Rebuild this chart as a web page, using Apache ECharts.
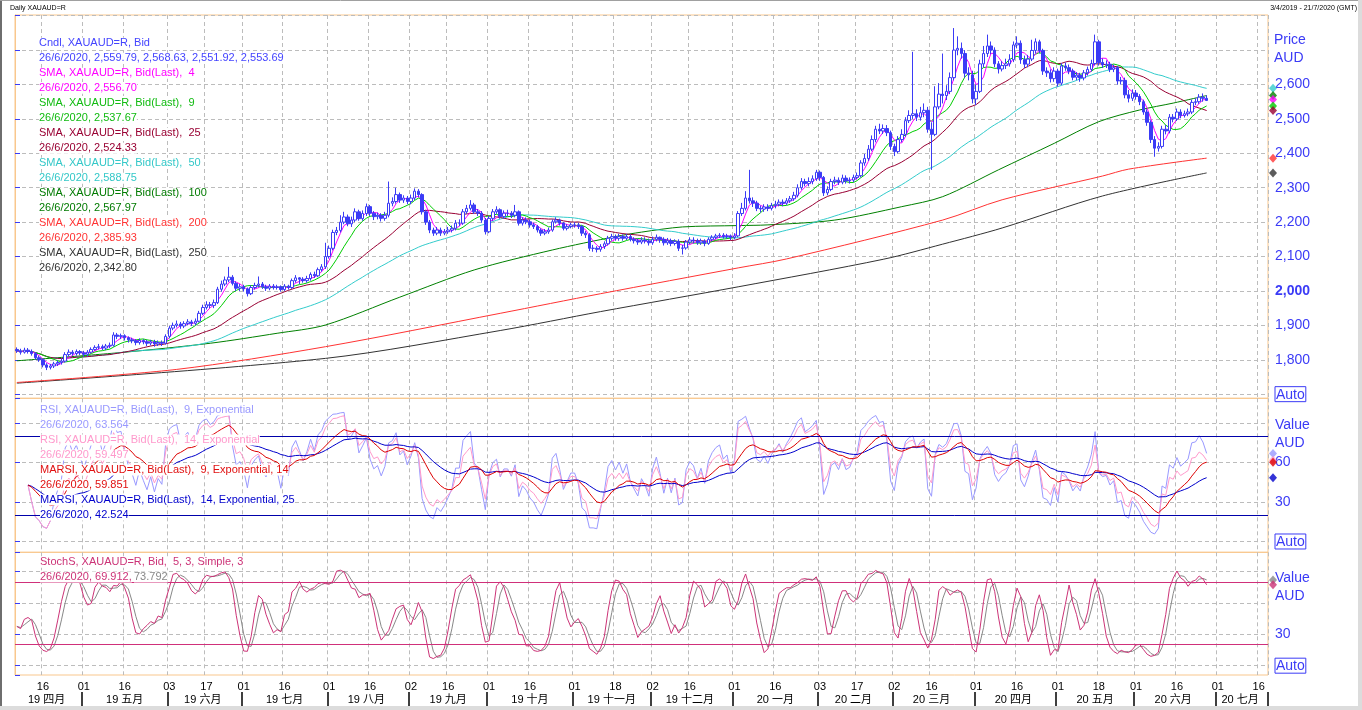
<!DOCTYPE html>
<html><head><meta charset="utf-8">
<script src="https://cdn.jsdelivr.net/npm/echarts@6/dist/echarts.min.js"></script>
<style>html,body{margin:0;padding:0;background:#fff;}#c{width:1362px;height:710px;}</style>
</head><body><div id="c"></div>
<script>
// ---------------- data ----------------
const startDate = '2019-04-05';
const endDate = '2020-07-20';
const tickDates = ['2019-04-16','2019-05-01','2019-05-16','2019-06-03','2019-06-17','2019-07-01','2019-07-16','2019-08-01','2019-08-16','2019-09-02','2019-09-16','2019-10-01','2019-10-16','2019-11-01','2019-11-18','2019-12-02','2019-12-16','2020-01-01','2020-01-16','2020-02-03','2020-02-17','2020-03-02','2020-03-16','2020-04-01','2020-04-16','2020-05-01','2020-05-18','2020-06-01','2020-06-16','2020-07-01','2020-07-16'];
const monthNames = ['一月','二月','三月','四月','五月','六月','七月','八月','九月','十月','十一月','十二月'];
const firstOpen = 1830;
const closes = [1826,1822,1828,1824,1818,1806,1800,1785,1778,1782,
1788,1792,1796,1815,1822,1818,1824,1820,1816,1822,
1830,1836,1838,1834,1840,1842,1872,1868,1870,1864,
1858,1855,1850,1856,1852,1848,1852,1846,1850,1848,
1868,1892,1900,1904,1898,1905,1910,1906,1912,1935,
1952,1960,1958,1966,2005,2020,2032,2040,2022,2008,
2012,2006,1992,2010,2016,2020,2012,2008,2014,2010,
2012,2004,2014,2010,2030,2038,2034,2030,2036,
2048,2044,2062,2070,2100,2124,2170,2176,2200,2215,
2195,2206,2230,2210,2225,2245,2226,2216,2220,2211,
2220,2255,2260,2280,2264,2270,2260,2270,2290,2280,
2230,2200,2177,2168,2177,2168,2172,2177,2182,2197,
2197,2230,2240,2250,2230,2226,2206,2172,2211,2230,
2236,2216,2226,2226,2220,2230,2197,2206,2201,2192,
2187,2177,2168,2172,2177,2201,2206,2197,2182,2187,
2192,2192,2187,2168,2163,2124,2124,2121,2129,2137,
2153,2158,2153,2158,2153,2158,2150,2146,2142,2148,
2145,2140,2150,2156,2150,2140,2146,2138,2144,
2124,2125,2142,2148,2146,2140,2145,2138,2150,2156,
2160,2162,2158,2160,2155,2160,2225,2240,2270,2262,
2255,2240,2238,2244,2240,2248,2252,2258,2255,2262,
2268,2278,2300,2318,2312,2318,2326,2345,2330,2285,
2295,2318,2322,2316,2328,2320,2322,2330,2335,2372,
2385,2412,2440,2470,2465,2472,2460,2420,2405,2440,
2455,2495,2510,2515,2505,2518,2525,2470,2455,2535,
2572,2568,2580,2620,2700,2705,2690,2633,2628,2558,
2580,2660,2690,2712,2700,2660,2645,2655,2660,2672,
2715,2720,2672,2659,2674,2699,2724,2699,2639,2634,
2617,2639,2604,2654,2649,2639,2621,2627,2619,2634,
2644,2661,2724,2664,2657,2659,2644,2649,2610,2612,
2570,2560,2575,2565,2550,2520,2490,2440,2415,2420,
2470,2465,2505,2500,2520,2510,2515,2520,2548,2550,
2563.3,2559.79,2553.69];
const highs = [1836,1832,1835,1834,1830,1822,1812,1804,1790,1788,
1794,1798,1804,1822,1830,1828,1830,1828,1826,1828,
1836,1842,1846,1844,1846,1850,1880,1878,1876,1874,
1868,1864,1860,1862,1860,1858,1858,1858,1856,1856,
1874,1898,1908,1914,1910,1912,1918,1916,1920,1942,
1960,1970,1968,1975,2012,2030,2042,2070,2046,2028,
2020,2018,2010,2016,2024,2042,2026,2018,2020,2020,
2018,2016,2020,2018,2036,2046,2040,2040,2044,
2054,2056,2068,2078,2140,2132,2178,2186,2220,2230,
2222,2216,2240,2236,2234,2254,2250,2232,2228,2226,
2230,2318,2272,2300,2286,2278,2276,2280,2298,2296,
2284,2236,2206,2184,2186,2184,2180,2186,2190,2206,
2208,2238,2250,2264,2256,2238,2232,2212,2218,2238,
2246,2240,2234,2236,2232,2250,2234,2214,2214,2208,
2198,2192,2182,2180,2184,2208,2214,2210,2200,2194,
2198,2200,2198,2192,2174,2168,2134,2130,2136,2144,
2160,2166,2164,2166,2164,2166,2164,2156,2152,2156,
2156,2152,2158,2164,2158,2156,2154,2152,2150,
2150,2134,2148,2156,2156,2152,2152,2150,2156,2162,
2166,2168,2168,2166,2164,2168,2232,2256,2290,2352,
2272,2262,2248,2252,2252,2256,2262,2266,2266,2270,
2276,2288,2310,2328,2326,2330,2336,2352,2350,2334,
2304,2326,2332,2330,2338,2336,2330,2338,2344,2380,
2398,2424,2452,2480,2486,2484,2482,2466,2428,2450,
2470,2505,2525,2695,2528,2535,2545,2535,2490,2595,
2604,2690,2598,2635,2764,2740,2722,2700,2650,2640,
2600,2672,2712,2745,2725,2708,2668,2668,2675,2688,
2725,2740,2728,2684,2686,2730,2734,2730,2704,2650,
2644,2650,2646,2662,2664,2658,2646,2636,2634,2642,
2652,2672,2745,2730,2676,2670,2666,2658,2654,2622,
2620,2584,2586,2584,2572,2556,2528,2496,2450,2432,
2480,2482,2514,2514,2530,2528,2524,2530,2556,2560,
2572,2574,2568.63];
const lows = [1820,1815,1818,1818,1812,1800,1794,1778,1770,1772,
1776,1782,1786,1792,1810,1812,1812,1814,1808,1810,
1818,1826,1830,1828,1828,1834,1838,1860,1860,1856,
1850,1848,1842,1844,1845,1840,1842,1838,1840,1840,
1844,1862,1886,1894,1890,1892,1900,1898,1900,1908,
1930,1946,1950,1950,1962,1998,2014,2026,2016,2000,
2000,1998,1984,1988,2004,2010,2006,2000,2002,2004,
2004,1998,2000,2004,2006,2024,2020,2024,2024,
2030,2038,2040,2056,2064,2094,2118,2162,2170,2194,
2188,2186,2200,2204,2204,2218,2218,2206,2208,2202,
2204,2214,2246,2254,2256,2256,2252,2252,2264,2272,
2222,2192,2168,2160,2162,2160,2162,2166,2170,2176,
2188,2192,2224,2234,2224,2218,2198,2164,2168,2204,
2224,2210,2210,2218,2212,2214,2190,2190,2194,2184,
2180,2170,2160,2162,2166,2172,2196,2190,2176,2176,
2182,2184,2180,2160,2154,2116,2114,2112,2114,2122,
2132,2146,2146,2146,2146,2148,2144,2138,2134,2136,
2138,2132,2134,2144,2140,2132,2134,2130,2132,
2116,2106,2120,2136,2138,2134,2134,2130,2134,2144,
2150,2154,2152,2152,2148,2150,2156,2218,2234,2254,
2244,2232,2228,2230,2232,2234,2240,2246,2246,2250,
2256,2262,2272,2294,2304,2304,2310,2320,2320,2276,
2278,2290,2310,2308,2310,2312,2312,2316,2324,2330,
2364,2378,2406,2432,2456,2456,2450,2410,2392,2400,
2432,2448,2488,2500,2494,2495,2505,2460,2352,2450,
2528,2545,2555,2572,2612,2685,2675,2620,2612,2545,
2540,2575,2650,2680,2688,2650,2632,2638,2645,2652,
2665,2705,2660,2648,2650,2668,2690,2690,2628,2622,
2606,2608,2594,2598,2640,2630,2612,2612,2608,2612,
2626,2638,2655,2655,2648,2648,2636,2636,2600,2600,
2560,2548,2552,2556,2540,2512,2480,2430,2390,2405,
2414,2455,2458,2490,2494,2502,2504,2508,2514,2540,
2544,2550,2551.92];
// long moving averages (trading-day number, value)
const sma100Days = [0,28,52,70,83,103,123,144,161,168,179,194,202,220,238,249,264,279,291,302,311,320];
const sma100Vals = [1797,1821,1848,1877,1901,1982,2061,2119,2158,2171,2186,2190,2192,2206,2245,2274,2352,2429,2492,2526,2546,2568];
const sma200Days = [0,43,83,130,157,194,207,249,265,292,299,320];
const sma200Vals = [1734,1772,1838,1935,1992,2067,2093,2206,2265,2334,2354,2386];
const sma250Days = [0,83,130,157,194,233,249,265,292,320];
const sma250Vals = [1732,1804,1885,1940,2012,2092,2136,2183,2276,2343];

// ---------------- helpers ----------------
const FONT = '"Liberation Sans", Arial, "Noto Sans CJK SC", sans-serif';
const blue = '#3b3bf6', orange = '#f9c78d', gridGray = '#bcbcbc';
const categories = [];
for (let d = new Date(startDate + 'T00:00:00Z'); d <= new Date(endDate + 'T00:00:00Z'); d.setUTCDate(d.getUTCDate() + 1)) {
  const wd = d.getUTCDay(); if (wd === 0 || wd === 6) continue;
  categories.push(d.toISOString().slice(0, 10));
}
const tickSet = new Set(tickDates);
const monthStart = new Set(), monthMid = new Set();
{
  let s = 0;
  for (let i = 1; i <= categories.length; i++) {
    if (i === categories.length || categories[i].slice(0, 7) !== categories[i - 1].slice(0, 7)) {
      monthMid.add(Math.floor((s + i - 1) / 2));
      if (i < categories.length) monthStart.add(i);
      s = i;
    }
  }
}
const opens = closes.map((c, i) => i === 0 ? firstOpen : closes[i - 1]);
const candleData = closes.map((c, i) => [opens[i], c, lows[i], highs[i]]);
function sma(a, n) { return a.map((v, i) => { const s = Math.max(0, i - n + 1); let t = 0; for (let k = s; k <= i; k++) t += a[k]; return t / (i - s + 1); }); }
// RSI with exponential averaging of gains/losses; shown once a few changes exist
function rsiE(c, n, start) { const out = [null]; let ag = 0, al = 0; const k = 2 / (n + 1);
  for (let i = 1; i < c.length; i++) { const d = c[i] - c[i - 1], g = Math.max(d, 0), l = Math.max(-d, 0);
    if (i <= n) { ag = (ag * (i - 1) + g) / i; al = (al * (i - 1) + l) / i; } else { ag += k * (g - ag); al += k * (l - al); }
    out.push(i < start ? null : (ag + al === 0 ? 50 : 100 * ag / (ag + al))); } return out; }
function ema(a, n) { const k = 2 / (n + 1); let e = null; return a.map(v => { if (v == null) return null; e = e == null ? v : e + k * (v - e); return e; }); }
const sma4 = sma(closes, 4), sma9 = sma(closes, 9), sma25 = sma(closes, 25), sma50 = sma(closes, 50);
const rsi9 = rsiE(closes, 9, 3), rsi14 = rsiE(closes, 14, 3);
const marsi9 = ema(rsi9, 14), marsi14 = ema(rsi14, 25);
const rawK = closes.map((c, i) => { const s = Math.max(0, i - 4); let hh = -Infinity, ll = Infinity;
  for (let k = s; k <= i; k++) { hh = Math.max(hh, highs[k]); ll = Math.min(ll, lows[k]); } return hh === ll ? 50 : 100 * (c - ll) / (hh - ll); });
const stochK = sma(rawK, 3), stochD = sma(stochK, 3);
const last = a => a[a.length - 1];
const sparse = (days, vals) => days.map((d, i) => [categories[d], vals[i]]);

// ---------------- axes ----------------
const richLabel = {
  auto: { color: blue, fontSize: 14, fontFamily: FONT, borderColor: blue, borderWidth: 1, padding: [1, 1, 0, 1] },
  b: { color: blue, fontSize: 14, fontFamily: FONT, fontWeight: 'bold' }
};
function isInt(v) { return Math.abs(v - Math.round(v)) < 1e-6; }
function yCfg(gi, min, max, step, fmt) {
  return { type: 'value', gridIndex: gi, position: 'right', min: min, max: max, minInterval: step, maxInterval: step,
    splitNumber: Math.round((max - min) / step),
    axisLine: { show: true, lineStyle: { color: orange } },
    axisTick: { show: true, length: 5, lineStyle: { color: blue } },
    axisLabel: { show: true, margin: 7, color: blue, fontSize: 14, fontFamily: FONT, formatter: fmt, rich: richLabel },
    splitLine: { show: true, showMinLine: false, showMaxLine: false, lineStyle: { color: gridGray, type: [4, 3], width: 1 } } };
}
const priceFmt = v => { if (!isInt(v)) return ''; v = Math.round(v); if (v === 1700) return '{auto|Auto}';
  if (v % 100 !== 0 || v < 1800 || v > 2600) return ''; const s = v.toLocaleString('en-US'); return v === 2000 ? '{b|' + s + '}' : s; };
const rsiFmt = v => { if (!isInt(v)) return ''; v = Math.round(v); if (v === 0) return '{auto|Auto}'; return (v === 30 || v === 60) ? String(v) : ''; };
const stochFmt = v => { if (!isInt(v)) return ''; v = Math.round(v); if (v === 0) return '{auto|Auto}'; return v === 30 ? '30' : ''; };
function xCat(gi, extra) {
  return Object.assign({ type: 'category', gridIndex: gi, data: categories, boundaryGap: true,
    axisLine: { show: false }, axisTick: { show: false }, axisLabel: { show: false },
    splitLine: { show: true, interval: (i, v) => tickSet.has(v), lineStyle: { color: gridGray, type: [4, 3], width: 1 } } }, extra || {});
}
const xAxes = [
  xCat(0), xCat(1),
  xCat(2, { axisLabel: { show: true, interval: (i, v) => tickSet.has(v), formatter: v => v.slice(8, 10), color: '#000', fontSize: 11, fontFamily: FONT, margin: 6 } }),
  { type: 'category', gridIndex: 2, data: categories, position: 'bottom', offset: 17, boundaryGap: true,
    axisLine: { show: false }, splitLine: { show: false },
    axisTick: { show: true, interval: (i) => monthStart.has(i), length: 14, lineStyle: { color: '#000', width: 1.5 } },
    axisLabel: { show: true, interval: (i) => monthMid.has(i), margin: 2, color: '#000', fontSize: 11, fontFamily: FONT,
      formatter: v => v.slice(2, 4) + ' ' + monthNames[parseInt(v.slice(5, 7), 10) - 1] } },
  { type: 'value', gridIndex: 0, min: 0, max: 1, show: false },
  { type: 'value', gridIndex: 1, min: 0, max: 1, show: false },
  { type: 'value', gridIndex: 2, min: 0, max: 1, show: false }
];
const yAxes = [
  yCfg(0, 1688, 2802, 100, priceFmt),
  yCfg(1, -8.2, 108.7, 30, rsiFmt),
  yCfg(2, -8.9, 108.3, 30, stochFmt)
];
const gridBase = { left: 15, right: 94, show: true, borderColor: orange, borderWidth: 1, backgroundColor: 'transparent' };
const grids = [
  Object.assign({ top: 15, height: 383.3 }, gridBase),
  Object.assign({ top: 398.3, height: 154 }, gridBase),
  Object.assign({ top: 552.3, height: 122.7 }, gridBase)
];

// ---------------- series ----------------
const line = (name, data, color, xi, yi, extra) => Object.assign({ name, type: 'line', data, xAxisIndex: xi, yAxisIndex: yi,
  showSymbol: false, symbol: 'none', lineStyle: { color, width: 1 }, itemStyle: { color }, z: 2, silent: true }, extra || {});
const marker = (xi, yi, items) => ({ type: 'scatter', xAxisIndex: xi, yAxisIndex: yi, clip: false, symbol: 'diamond', symbolSize: [8, 9],
  symbolOffset: [5, 0], z: 10, silent: true, data: items.map(([v, c]) => ({ value: [1, v], itemStyle: { color: c } })) });
const C = { sma4: '#ff00ff', sma9: '#00cc00', sma25: '#990033', sma50: '#33cccc', sma100: '#008000', sma200: '#ff3333', sma250: '#333333',
  rsi9: '#9999ff', rsi14: '#ff99cc', marsi9: '#dd0000', marsi14: '#0000cc', k: '#cc3377', d: '#888888' };
const series = [
  line('SMA250', sparse(sma250Days, sma250Vals), C.sma250, 0, 0, { smooth: 0.3 }),
  line('SMA200', sparse(sma200Days, sma200Vals), C.sma200, 0, 0, { smooth: 0.3 }),
  line('SMA100', sparse(sma100Days, sma100Vals), C.sma100, 0, 0, { smooth: 0.3 }),
  line('SMA50', sma50, C.sma50, 0, 0),
  line('SMA25', sma25, C.sma25, 0, 0),
  line('SMA9', sma9, C.sma9, 0, 0),
  line('SMA4', sma4, C.sma4, 0, 0),
  { name: 'Cndl', type: 'candlestick', xAxisIndex: 0, yAxisIndex: 0, data: candleData, barWidth: 3, z: 3, silent: true,
    itemStyle: { color: '#ffffff', color0: blue, borderColor: blue, borderColor0: blue, borderWidth: 1 } },
  line('RSI9', rsi9, C.rsi9, 1, 1),
  line('RSI14', rsi14, C.rsi14, 1, 1),
  line('MARSI14', marsi14, C.marsi14, 1, 1, { markLine: { silent: true, symbol: 'none', label: { show: false },
    lineStyle: { color: '#0000aa', type: 'solid', width: 1 }, data: [{ yAxis: 80 }, { yAxis: 20 }] } }),
  line('MARSI9', marsi9, C.marsi9, 1, 1),
  line('StochD', stochD, C.d, 2, 2, { markLine: { silent: true, symbol: 'none', label: { show: false },
    lineStyle: { color: '#d0307a', type: 'solid', width: 1 }, data: [{ yAxis: 80 }, { yAxis: 20 }] } }),
  line('StochK', stochK, C.k, 2, 2),
  marker(4, 0, [[last(sma50), C.sma50], [last(sma100Vals), C.sma100], [last(sma4), C.sma4], [last(sma9), C.sma9], [last(sma25), C.sma25],
    [last(sma200Vals), C.sma200], [last(sma250Vals), C.sma250]]),
  marker(5, 1, [[last(rsi9), C.rsi9], [last(rsi14), C.rsi14], [last(marsi9), C.marsi9], [last(marsi14), C.marsi14]]),
  marker(6, 2, [[last(stochD), C.d], [last(stochK), C.k]])
];

// ---------------- texts ----------------
const priceLegend = [
  ['Cndl, XAUAUD=R, Bid', '#4444ff'], ['26/6/2020, 2,559.79, 2,568.63, 2,551.92, 2,553.69', '#4444ff'],
  ['SMA, XAUAUD=R, Bid(Last),  4', '#ff00ff'], ['26/6/2020, 2,556.70', '#ff00ff'],
  ['SMA, XAUAUD=R, Bid(Last),  9', '#11bb11'], ['26/6/2020, 2,537.67', '#11bb11'],
  ['SMA, XAUAUD=R, Bid(Last),  25', '#990033'], ['26/6/2020, 2,524.33', '#990033'],
  ['SMA, XAUAUD=R, Bid(Last),  50', '#33c8c8'], ['26/6/2020, 2,588.75', '#33c8c8'],
  ['SMA, XAUAUD=R, Bid(Last),  100', '#007a00'], ['26/6/2020, 2,567.97', '#007a00'],
  ['SMA, XAUAUD=R, Bid(Last),  200', '#ff3333'], ['26/6/2020, 2,385.93', '#ff3333'],
  ['SMA, XAUAUD=R, Bid(Last),  250', '#333333'], ['26/6/2020, 2,342.80', '#333333']
];
const rsiLegend = [
  ['RSI, XAUAUD=R, Bid(Last),  9, Exponential', '#9999ff'], ['26/6/2020, 63.564', '#9999ff'],
  ['RSI, XAUAUD=R, Bid(Last),  14, Exponential', '#ff99cc'], ['26/6/2020, 59.497', '#ff99cc'],
  ['MARSI, XAUAUD=R, Bid(Last),  9, Exponential, 14', '#e01010'], ['26/6/2020, 59.851', '#e01010'],
  ['MARSI, XAUAUD=R, Bid(Last),  14, Exponential, 25', '#0000cc'], ['26/6/2020, 42.524', '#0000cc']
];
const graphics = [];
function txt(x, y, text, fill, size, extra) {
  graphics.push({ type: 'text', x, y, z: 100, silent: true,
    style: Object.assign({ text, fill, font: size + 'px ' + FONT, verticalAlign: 'middle', backgroundColor: '#fff' }, extra || {}) });
}
priceLegend.forEach((r, i) => txt(39, 43.3 + 15 * i, r[0], r[1], 11));
rsiLegend.forEach((r, i) => txt(40, 410 + 15 * i, r[0], r[1], 11));
txt(40, 562.3, 'StochS, XAUAUD=R, Bid,  5, 3, Simple, 3', '#cc3377', 11);
txt(40, 577, '26/6/2020, 69.912,', '#cc3377', 11);
txt(134, 577, '73.792', '#888888', 11);
[['Price', 40], ['AUD', 58.3]].forEach(r => txt(1274, r[1], r[0], blue, 14, { backgroundColor: 'transparent' }));
[['Value', 425], ['AUD', 442.7], ['Value', 578.3], ['AUD', 595.7]].forEach(r => txt(1275, r[1], r[0], blue, 14, { backgroundColor: 'transparent' }));
txt(10, 8, 'Daily XAUAUD=R', '#000', 7, { backgroundColor: 'transparent' });
txt(1357, 8, '3/4/2019 - 21/7/2020 (GMT)', '#000', 7, { backgroundColor: 'transparent', align: 'right' });
// outer frame
graphics.push({ type: 'line', silent: true, z: 0, shape: { x1: 1, y1: 0, x2: 1, y2: 710 }, style: { stroke: '#6e6e6e', lineWidth: 2 } });
graphics.push({ type: 'line', silent: true, z: 0, shape: { x1: 0, y1: 0.5, x2: 1362, y2: 0.5 }, style: { stroke: '#a0a0a0', lineWidth: 1 } });
graphics.push({ type: 'line', silent: true, z: 0, shape: { x1: 1360, y1: 0, x2: 1360, y2: 710 }, style: { stroke: '#dcdcdc', lineWidth: 4 } });
graphics.push({ type: 'line', silent: true, z: 0, shape: { x1: 0, y1: 708, x2: 1362, y2: 708 }, style: { stroke: '#dcdcdc', lineWidth: 4 } });

const chart = echarts.init(document.getElementById('c'), null, { renderer: 'canvas', width: 1362, height: 710 });
chart.setOption({ animation: false, backgroundColor: '#fff', grid: grids, xAxis: xAxes, yAxis: yAxes, series, graphic: graphics });
</script></body></html>
